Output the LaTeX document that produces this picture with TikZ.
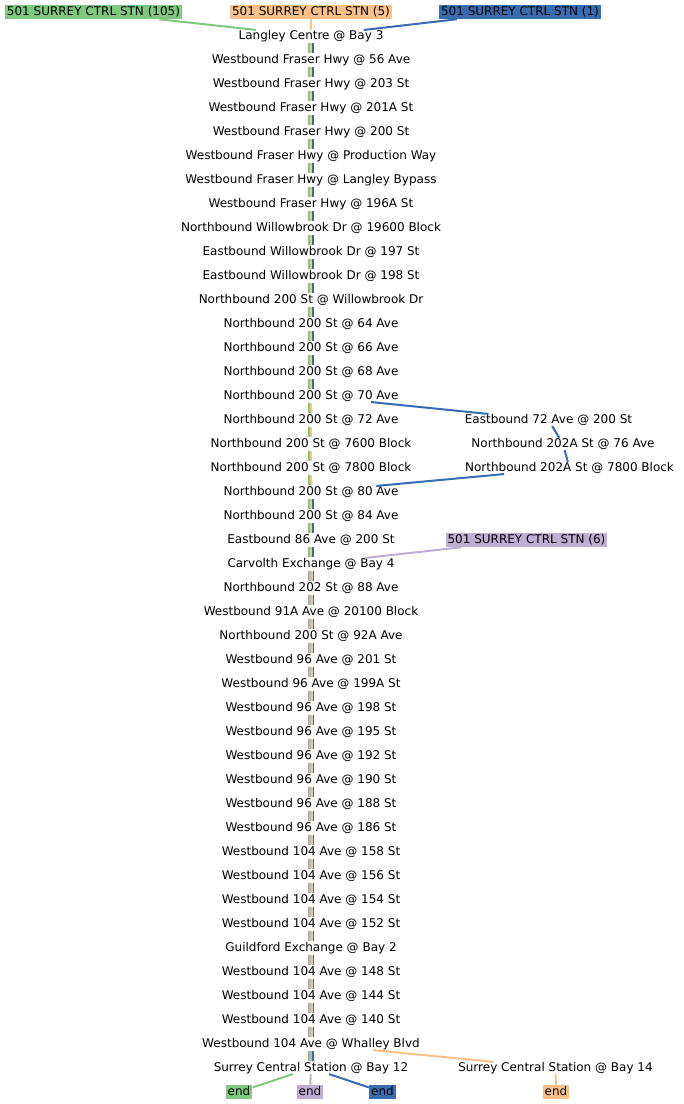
\documentclass[tikz,border=0pt]{standalone}
\usepackage{fontspec}
\setmainfont{DejaVu Sans}
\definecolor{cG}{HTML}{7FC97F}
\definecolor{cO}{HTML}{FDC086}
\definecolor{cP}{HTML}{BEAED4}
\definecolor{cB}{HTML}{386CB0}
\begin{document}
\begin{tikzpicture}[x=0.75pt,y=-0.75pt,
  every node/.style={font=\fontsize{9pt}{10pt}\selectfont},
  stop/.style={inner xsep=0pt,inner ysep=0pt,text height=6.6pt,text depth=2.1pt},
  tag/.style={inner xsep=1.5pt,inner ysep=0.9pt,text height=6.6pt,text depth=2.1pt,text=black},
  conn/.style={line width=1.5pt},
  segline/.style={line width=1.3pt,shorten <=1.0pt,shorten >=1.0pt}]
\useasboundingbox (0,0) rectangle (683,1104);
% main column
\foreach \i/\t in {0/Langley Centre @ Bay 3,
 1/Westbound Fraser Hwy @ 56 Ave,
 2/Westbound Fraser Hwy @ 203 St,
 3/Westbound Fraser Hwy @ 201A St,
 4/Westbound Fraser Hwy @ 200 St,
 5/Westbound Fraser Hwy @ Production Way,
 6/Westbound Fraser Hwy @ Langley Bypass,
 7/Westbound Fraser Hwy @ 196A St,
 8/Northbound Willowbrook Dr @ 19600 Block,
 9/Eastbound Willowbrook Dr @ 197 St,
 10/Eastbound Willowbrook Dr @ 198 St,
 11/Northbound 200 St @ Willowbrook Dr,
 12/Northbound 200 St @ 64 Ave,
 13/Northbound 200 St @ 66 Ave,
 14/Northbound 200 St @ 68 Ave,
 15/Northbound 200 St @ 70 Ave,
 16/Northbound 200 St @ 72 Ave,
 17/Northbound 200 St @ 7600 Block,
 18/Northbound 200 St @ 7800 Block,
 19/Northbound 200 St @ 80 Ave,
 20/Northbound 200 St @ 84 Ave,
 21/Eastbound 86 Ave @ 200 St,
 22/Carvolth Exchange @ Bay 4,
 23/Northbound 202 St @ 88 Ave,
 24/Westbound 91A Ave @ 20100 Block,
 25/Northbound 200 St @ 92A Ave,
 26/Westbound 96 Ave @ 201 St,
 27/Westbound 96 Ave @ 199A St,
 28/Westbound 96 Ave @ 198 St,
 29/Westbound 96 Ave @ 195 St,
 30/Westbound 96 Ave @ 192 St,
 31/Westbound 96 Ave @ 190 St,
 32/Westbound 96 Ave @ 188 St,
 33/Westbound 96 Ave @ 186 St,
 34/Westbound 104 Ave @ 158 St,
 35/Westbound 104 Ave @ 156 St,
 36/Westbound 104 Ave @ 154 St,
 37/Westbound 104 Ave @ 152 St,
 38/Guildford Exchange @ Bay 2,
 39/Westbound 104 Ave @ 148 St,
 40/Westbound 104 Ave @ 144 St,
 41/Westbound 104 Ave @ 140 St,
 42/Westbound 104 Ave @ Whalley Blvd,
 43/Surrey Central Station @ Bay 12}
 { \node[stop] (r\i) at (311,{36+24*\i}) {\t}; }
% side stops
\node[stop] (e72) at (548.5,420) {Eastbound 72 Ave @ 200 St};
\node[stop] (n76) at (563,444) {Northbound 202A St @ 76 Ave};
\node[stop] (n78) at (569.5,468) {Northbound 202A St @ 7800 Block};
\node[stop] (b14) at (555.5,1068) {Surrey Central Station @ Bay 14};
% labels
\node[tag,fill=cG] (lG) at (93.5,12) {501 SURREY CTRL STN (105)};
\node[tag,fill=cO] (lO) at (311,12) {501 SURREY CTRL STN (5)};
\node[tag,fill=cB] (lB) at (520,12) {501 SURREY CTRL STN (1)};
\node[tag,fill=cP] (lP) at (526.5,540) {501 SURREY CTRL STN (6)};
\node[tag,fill=cG] (eG) at (239,1092) {end};
\node[tag,fill=cP] (eP) at (310,1092) {end};
\node[tag,fill=cB] (eB) at (382.5,1092) {end};
\node[tag,fill=cO] (eO) at (556,1092) {end};
% segments along the main column
\foreach \i in {0,...,14,19,20,21} {
  \pgfmathtruncatemacro\j{\i+1}
  \draw[segline,cG] ([xshift=-1.3pt]r\i.south) -- ([xshift=-1.3pt]r\j.north);
  \draw[segline,cO] (r\i.south) -- (r\j.north);
  \draw[segline,cB] ([xshift=1.3pt]r\i.south) -- ([xshift=1.3pt]r\j.north);
}
\foreach \i in {15,...,18} {
  \pgfmathtruncatemacro\j{\i+1}
  \draw[segline,cG] ([xshift=-1.3pt]r\i.south) -- ([xshift=-1.3pt]r\j.north);
  \draw[segline,cO] (r\i.south) -- (r\j.north);
}
\foreach \i in {22,...,41} {
  \pgfmathtruncatemacro\j{\i+1}
  \draw[segline,cG] ([xshift=-1.95pt]r\i.south) -- ([xshift=-1.95pt]r\j.north);
  \draw[segline,cP] ([xshift=-0.65pt]r\i.south) -- ([xshift=-0.65pt]r\j.north);
  \draw[segline,cO] ([xshift=0.65pt]r\i.south) -- ([xshift=0.65pt]r\j.north);
  \draw[segline,cB] ([xshift=1.95pt]r\i.south) -- ([xshift=1.95pt]r\j.north);
}
\draw[segline,cG] ([xshift=-1.3pt]r42.south) -- ([xshift=-1.3pt]r43.north);
\draw[segline,cP] (r42.south) -- (r43.north);
\draw[segline,cB] ([xshift=1.3pt]r42.south) -- ([xshift=1.3pt]r43.north);
% connectors
\draw[conn,cG] (lG) -- (r0);
\draw[conn,cO] (lO) -- (r0);
\draw[conn,cB] (lB) -- (r0);
\draw[conn,cB] (r15) -- (e72);
\draw[conn,cB] (e72) -- (n76);
\draw[conn,cB] (n76) -- (n78);
\draw[conn,cB] (n78) -- (r19);
\draw[conn,cP] (lP) -- (r22);
\draw[conn,cO] (r42) -- (b14);
\draw[conn,cO] (b14) -- (eO);
\draw[conn,cG] (r43) -- (eG);
\draw[conn,cP] (r43) -- (eP);
\draw[conn,cB] (r43) -- (eB);
\end{tikzpicture}
\end{document}
